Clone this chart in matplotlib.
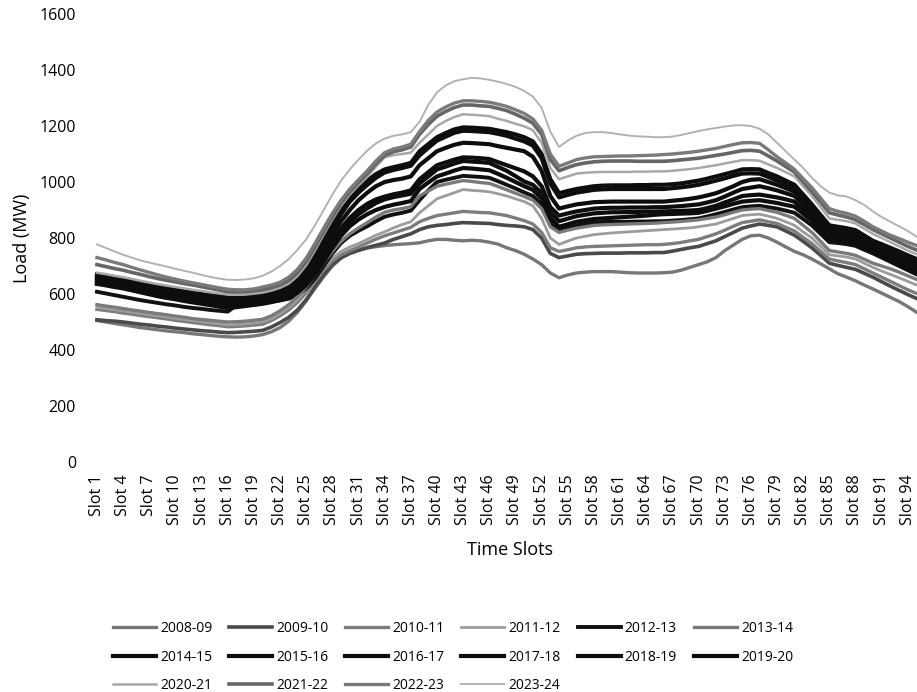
import matplotlib
matplotlib.use("Agg")
import matplotlib.pyplot as plt
import numpy as np

# 96 quarter-hour slots, load in MW
slots = np.arange(1, 97)
tick_slots = slots[::3]

years = [
    "2008-09", "2009-10", "2010-11", "2011-12", "2012-13", "2013-14",
    "2014-15", "2015-16", "2016-17", "2017-18", "2018-19", "2019-20",
    "2020-21", "2021-22", "2022-23", "2023-24",
]

load_2008_09 = [
    505, 500, 495, 490, 485, 480, 476, 472, 468, 465, 462, 458,
    455, 452, 449, 447, 446, 447, 450, 455, 465, 480, 503, 535,
    575, 620, 662, 700, 728, 745, 756, 764, 769, 773, 776, 778,
    780, 783, 790, 795, 795, 792, 790, 792, 790, 785, 778, 765,
    755, 742, 725, 705, 675, 658, 668, 675, 678, 680, 680, 680,
    678, 676, 675, 675, 675, 676, 678, 685, 695, 705, 715, 730,
    755, 775, 795, 808, 810, 800, 785, 768, 752, 740, 725, 708,
    690, 672, 660, 647, 632, 618, 603, 588, 573, 555, 535, 520,
]
load_2009_10 = [
    508, 505, 503, 500, 496, 492, 489, 485, 482, 478, 475, 472,
    469, 467, 464, 462, 463, 465, 467, 470, 482, 498, 517, 543,
    580, 625, 668, 705, 730, 745, 756, 766, 774, 782, 795, 805,
    815, 830, 840, 845, 848, 852, 855, 854, 853, 852, 848, 845,
    843, 840, 830, 800, 745, 730, 736, 742, 744, 745, 746, 746,
    746, 747, 747, 747, 748, 748, 753, 759, 765, 770, 780, 790,
    805, 820, 835, 843, 850, 845, 840, 825, 810, 788, 765, 738,
    710, 702, 695, 688, 674, 660, 644, 628, 613, 598, 584, 570,
]
load_2010_11 = [
    545, 541, 537, 532, 528, 523, 519, 515, 511, 506, 502, 498,
    494, 490, 487, 483, 484, 486, 489, 492, 505, 522, 543, 570,
    605, 645, 685, 718, 740, 755, 768, 782, 796, 808, 818, 828,
    838, 858, 870, 880, 885, 890, 895, 893, 891, 890, 885, 880,
    871, 862, 850, 820, 765, 752, 758, 765, 768, 770, 771, 772,
    773, 774, 775, 776, 776, 777, 780, 784, 790, 795, 805, 815,
    828, 842, 855, 860, 865, 858, 852, 838, 825, 802, 780, 752,
    725, 718, 712, 705, 690, 675, 660, 645, 630, 615, 602, 590,
]
load_2011_12 = [
    552, 548, 544, 540, 535, 531, 526, 522, 518, 513, 509, 505,
    501, 497, 494, 490, 491, 493, 496, 500, 512, 530, 552, 580,
    615, 655, 695, 728, 752, 768, 780, 795, 810, 822, 836, 848,
    858, 890, 915, 940, 951, 962, 973, 970, 968, 965, 958, 950,
    940, 930, 915, 870, 800, 777, 789, 800, 806, 812, 815, 818,
    820, 822, 824, 826, 828, 830, 832, 834, 836, 840, 845, 850,
    860, 870, 880, 883, 885, 878, 870, 858, 845, 822, 800, 770,
    740, 736, 732, 725, 710, 695, 682, 670, 658, 645, 632, 620,
]
load_2012_13 = [
    608, 602, 596, 590, 584, 578, 573, 568, 563, 559, 554, 550,
    547, 543, 540, 537, 560, 566, 568, 570, 573, 577, 583, 596,
    620, 655, 700, 745, 782, 808, 826, 842, 860, 876, 884, 890,
    898, 935, 970, 1000, 1008, 1015, 1022, 1020, 1018, 1015, 1003, 990,
    977, 963, 950, 920, 850, 830, 838, 845, 850, 855, 857, 858,
    858, 858, 859, 859, 860, 860, 862, 864, 867, 870, 877, 885,
    893, 902, 910, 913, 915, 910, 905, 898, 890, 868, 845, 815,
    785, 782, 778, 772, 758, 745, 730, 715, 700, 685, 670, 655,
]
load_2013_14 = [
    562, 557, 553, 548, 543, 539, 534, 530, 526, 521, 517, 512,
    509, 506, 503, 500, 501, 503, 506, 510, 522, 540, 562, 590,
    625, 668, 712, 752, 788, 815, 836, 855, 875, 892, 900, 905,
    912, 950, 968, 985, 992, 999, 1005, 1002, 998, 995, 984, 972,
    960, 948, 935, 905, 840, 820, 828, 835, 840, 845, 847, 848,
    849, 850, 851, 852, 853, 855, 857, 859, 862, 865, 870, 875,
    883, 892, 900, 903, 905, 898, 892, 881, 870, 845, 820, 788,
    755, 750, 745, 738, 724, 710, 700, 690, 678, 665, 652, 640,
]
load_2014_15 = [
    636, 631, 625, 620, 613, 606, 599, 592, 586, 581, 575, 570,
    565, 560, 555, 550, 553, 557, 561, 565, 571, 578, 588, 605,
    632, 670, 716, 765, 808, 842, 866, 885, 900, 911, 919, 925,
    932, 975, 998, 1020, 1030, 1041, 1050, 1048, 1045, 1042, 1029, 1015,
    1000, 985, 972, 940, 870, 840, 849, 858, 863, 868, 870, 872,
    874, 876, 878, 880, 883, 885, 886, 887, 888, 890, 897, 905,
    913, 922, 930, 933, 935, 930, 925, 918, 912, 887, 862, 828,
    795, 792, 788, 782, 767, 752, 737, 722, 707, 692, 678, 665,
]
load_2015_16 = [
    640, 635, 630, 626, 619, 612, 605, 598, 592, 587, 581, 576,
    571, 566, 561, 556, 558, 562, 566, 570, 576, 583, 593, 612,
    640, 680, 728, 778, 822, 858, 885, 906, 925, 938, 946, 952,
    958, 995, 1020, 1045, 1055, 1066, 1075, 1073, 1071, 1068, 1054, 1040,
    1021, 1002, 990, 960, 890, 860, 869, 878, 883, 888, 890, 892,
    892, 893, 893, 894, 894, 895, 896, 897, 898, 900, 907, 915,
    927, 938, 950, 953, 955, 950, 945, 938, 930, 903, 875, 840,
    805, 802, 798, 792, 776, 760, 746, 732, 716, 700, 686, 672,
]
load_2016_17 = [
    648, 643, 638, 633, 626, 619, 612, 605, 599, 593, 588, 582,
    577, 572, 567, 562, 564, 568, 571, 575, 581, 588, 598, 618,
    648, 690, 740, 790, 835, 872, 900, 922, 938, 948, 956, 962,
    970, 1010, 1035, 1060, 1070, 1080, 1088, 1087, 1085, 1082, 1071, 1060,
    1049, 1038, 1020, 985, 910, 880, 888, 895, 900, 905, 907, 908,
    908, 909, 909, 909, 910, 910, 912, 914, 917, 920, 927, 935,
    948, 962, 975, 980, 985, 978, 970, 960, 950, 920, 890, 852,
    815, 812, 808, 800, 784, 768, 754, 740, 725, 710, 696, 682,
]
load_2017_18 = [
    655, 650, 645, 640, 633, 626, 619, 612, 606, 601, 595, 590,
    585, 580, 575, 570, 571, 574, 578, 582, 588, 596, 607, 628,
    660, 705, 760, 812, 860, 900, 935, 962, 985, 1000, 1007, 1012,
    1020, 1060, 1085, 1110, 1122, 1133, 1140, 1139, 1137, 1135, 1128, 1122,
    1116, 1110, 1090, 1040, 950, 905, 913, 920, 924, 928, 929, 930,
    930, 930, 930, 930, 930, 930, 933, 936, 940, 945, 952, 960,
    972, 985, 1000, 1008, 1010, 1000, 990, 978, 965, 932, 900, 862,
    825, 822, 818, 810, 792, 775, 762, 748, 734, 720, 706, 692,
]
load_2018_19 = [
    662, 657, 653, 648, 641, 634, 627, 620, 614, 609, 603, 598,
    593, 589, 584, 580, 580, 582, 586, 590, 596, 604, 616, 640,
    676, 725, 780, 835, 885, 930, 962, 990, 1015, 1034, 1043, 1050,
    1058, 1095, 1122, 1148, 1162, 1176, 1183, 1182, 1180, 1178, 1172, 1165,
    1155, 1145, 1130, 1085, 995, 945, 954, 962, 967, 972, 974, 975,
    975, 975, 975, 975, 975, 975, 978, 981, 985, 990, 997, 1005,
    1013, 1022, 1030, 1031, 1030, 1018, 1005, 992, 978, 945, 910, 872,
    835, 830, 826, 820, 801, 782, 768, 755, 742, 728, 715, 702,
]
load_2019_20 = [
    670, 665, 660, 655, 648, 641, 635, 628, 622, 616, 610, 605,
    600, 596, 592, 588, 587, 588, 592, 598, 604, 613, 626, 652,
    690, 740, 795, 850, 900, 945, 978, 1005, 1028, 1045, 1053, 1060,
    1068, 1110, 1135, 1160, 1175, 1188, 1195, 1194, 1192, 1190, 1184, 1178,
    1170, 1160, 1145, 1100, 1010, 960, 968, 975, 980, 985, 987, 988,
    988, 988, 989, 989, 990, 990, 992, 995, 1000, 1005, 1012, 1020,
    1028, 1036, 1045, 1046, 1045, 1032, 1020, 1005, 990, 955, 920, 882,
    845, 840, 835, 828, 809, 790, 778, 765, 752, 738, 725, 712,
]
load_2020_21 = [
    676, 671, 665, 660, 654, 647, 641, 635, 630, 625, 620, 615,
    611, 606, 602, 598, 597, 598, 601, 605, 612, 622, 637, 664,
    703, 755, 812, 866, 915, 955, 988, 1018, 1055, 1088, 1096, 1100,
    1105, 1140, 1170, 1200, 1218, 1232, 1242, 1240, 1238, 1235, 1226, 1218,
    1208, 1199, 1185, 1140, 1050, 1010, 1020, 1030, 1033, 1035, 1036, 1036,
    1036, 1036, 1037, 1037, 1038, 1038, 1040, 1043, 1046, 1050, 1055, 1060,
    1066, 1072, 1078, 1078, 1076, 1063, 1050, 1035, 1020, 985, 950, 910,
    870, 865, 860, 852, 833, 815, 800, 785, 770, 755, 742, 730,
]
load_2021_22 = [
    705, 698, 691, 685, 677, 670, 662, 655, 649, 643, 637, 632,
    626, 620, 614, 608, 607, 608, 611, 615, 622, 632, 648, 676,
    716, 768, 823, 876, 925, 965, 998, 1030, 1065, 1095, 1108, 1115,
    1125, 1170, 1205, 1235, 1252, 1266, 1275, 1275, 1272, 1270, 1263, 1255,
    1242, 1228, 1210, 1170, 1080, 1040, 1052, 1062, 1068, 1072, 1074, 1075,
    1075, 1075, 1074, 1074, 1074, 1074, 1076, 1079, 1082, 1085, 1090, 1095,
    1100, 1106, 1112, 1113, 1110, 1093, 1075, 1055, 1035, 1000, 965, 928,
    890, 882, 875, 865, 848, 830, 815, 800, 785, 770, 757, 745,
]
load_2022_23 = [
    730, 722, 713, 705, 695, 686, 677, 668, 660, 653, 646, 640,
    634, 628, 622, 617, 615, 615, 618, 625, 632, 642, 660, 688,
    728, 780, 835, 888, 935, 975, 1008, 1040, 1075, 1105, 1118, 1125,
    1135, 1180, 1220, 1250, 1268, 1282, 1290, 1290, 1288, 1285, 1278, 1270,
    1258, 1245, 1225, 1185, 1100, 1056, 1068, 1080, 1086, 1090, 1091, 1092,
    1093, 1093, 1094, 1095, 1096, 1098, 1100, 1103, 1106, 1110, 1115, 1120,
    1127, 1134, 1140, 1141, 1138, 1115, 1090, 1068, 1045, 1012, 980, 942,
    905, 895, 888, 878, 860, 840, 825, 810, 798, 785, 773, 762,
]
load_2023_24 = [
    777, 765, 752, 740, 730, 720, 712, 705, 698, 690, 683, 676,
    668, 661, 655, 651, 650, 652, 656, 665, 680, 700, 725, 758,
    795, 845, 900, 955, 1005, 1045, 1080, 1112, 1138, 1155, 1165, 1170,
    1178, 1215, 1275, 1320, 1345, 1360, 1367, 1372, 1370, 1365, 1358, 1350,
    1340, 1325, 1305, 1265, 1180, 1125, 1148, 1165, 1175, 1178, 1178, 1175,
    1170, 1166, 1163, 1162, 1160, 1160, 1162, 1168, 1175, 1182, 1188, 1193,
    1198, 1202, 1203, 1200, 1190, 1170, 1140, 1110, 1080, 1050, 1015, 985,
    962, 952, 948, 935, 918, 895, 875, 858, 842, 825, 805, 788,
]

SERIES = {
    "2008-09": load_2008_09, "2009-10": load_2009_10, "2010-11": load_2010_11,
    "2011-12": load_2011_12, "2012-13": load_2012_13, "2013-14": load_2013_14,
    "2014-15": load_2014_15, "2015-16": load_2015_16, "2016-17": load_2016_17,
    "2017-18": load_2017_18, "2018-19": load_2018_19, "2019-20": load_2019_20,
    "2020-21": load_2020_21, "2021-22": load_2021_22, "2022-23": load_2022_23,
    "2023-24": load_2023_24,
}

# (colour, linewidth) per year -- greyscale print
STYLE = {
    "2008-09": ("#777777", 2.4),
    "2009-10": ("#4a4a4a", 2.6),
    "2010-11": ("#7d7d7d", 2.4),
    "2011-12": ("#9c9c9c", 2.0),
    "2012-13": ("#111111", 2.8),
    "2013-14": ("#7a7a7a", 2.4),
    "2014-15": ("#0d0d0d", 3.0),
    "2015-16": ("#0d0d0d", 3.0),
    "2016-17": ("#0d0d0d", 3.0),
    "2017-18": ("#0d0d0d", 3.0),
    "2018-19": ("#0d0d0d", 3.0),
    "2019-20": ("#0d0d0d", 3.0),
    "2020-21": ("#a8a8a8", 1.8),
    "2021-22": ("#666666", 2.6),
    "2022-23": ("#7a7a7a", 2.4),
    "2023-24": ("#b2b2b2", 1.4),
}

for year in years:
    assert len(SERIES[year]) == len(slots), year

FONT = ["Open Sans", "DejaVu Sans"]

W, H = 917, 692
fig = plt.figure(figsize=(W / 100, H / 100), dpi=100)
ax = fig.add_axes([92.6 / W, 1 - 462 / H, 837 / W, 448 / H])

lines = {}
for year in years:
    color, lw = STYLE[year]
    (lines[year],) = ax.plot(slots, SERIES[year], color=color, lw=lw,
                             label=year, solid_joinstyle="round")

ax.set_xlim(0.5, 96.5)
ax.set_ylim(0, 1600)
ax.set_yticks(np.arange(0, 1601, 200))
ax.set_xticks(tick_slots)
ax.set_xticklabels([f"Slot {s}" for s in tick_slots], rotation=90,
                   family=FONT, fontsize=11.5, va="top", ha="center")
for lab in ax.get_yticklabels():
    lab.set_family(FONT)
    lab.set_fontsize(11.5)
for sp in ax.spines.values():
    sp.set_visible(False)
ax.tick_params(axis="both", length=0)
ax.tick_params(axis="y", pad=12)
ax.tick_params(axis="x", pad=9)

fig.text(510 / W, 1 - 550 / H, "Time Slots", ha="center", va="center",
         family=FONT, fontsize=13)
fig.text(22 / W, 1 - 238 / H, "Load (MW)", ha="center", va="center",
         rotation=90, family=FONT, fontsize=13)

# legend reads row by row (6 per row); matplotlib fills by column
ncol = 6
order = []
for c in range(ncol):
    for r in range(0, len(years), ncol):
        if r + c < len(years):
            order.append(years[r + c])
fig.legend([lines[y] for y in order], order,
           loc="upper left", bbox_to_anchor=(113 / W, 1 - 621 / H),
           ncol=ncol, frameon=False, borderpad=0, borderaxespad=0,
           handlelength=3.1, handletextpad=0.3, columnspacing=1.2,
           labelspacing=0.98, prop={"family": FONT, "size": 10})

fig.savefig("out.png", dpi=100)
